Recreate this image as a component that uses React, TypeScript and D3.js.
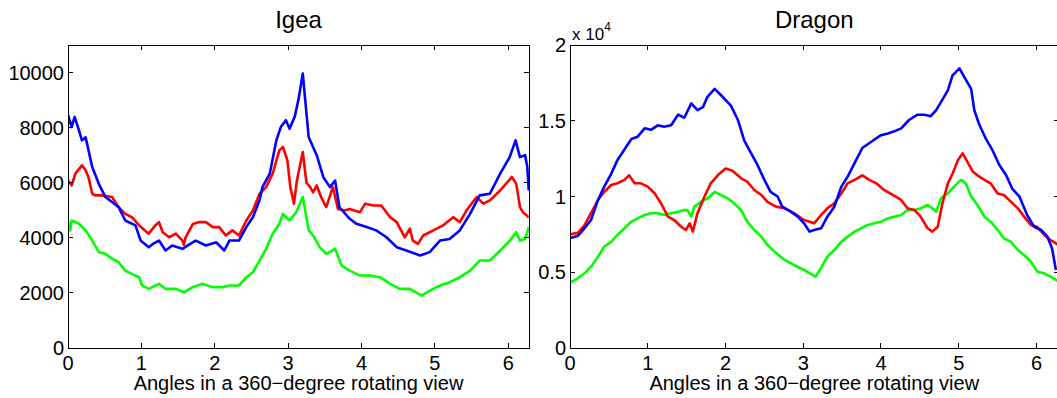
import React from "react";
import * as d3 from "d3";

// ---------- DATA (angle in radians, value) ----------
const igeaTicksY = [0, 2000, 4000, 6000, 8000, 10000];
const dragonTicksY = [0, 0.5, 1, 1.5, 2];
const xTicks = [0, 1, 2, 3, 4, 5, 6];

const igeaBlue: [number, number][] = [
  [0, 8450], [0.05, 8020], [0.09, 8390], [0.15, 7900], [0.19, 7540], [0.24, 7650], [0.28, 7175], [0.33, 6570],
  [0.42, 5960], [0.51, 5480], [0.6, 5300], [0.69, 5115], [0.78, 4630], [0.92, 4450], [0.99, 3900], [1.1, 3660],
  [1.17, 3800], [1.24, 3900], [1.33, 3540], [1.42, 3720], [1.56, 3600], [1.65, 3750], [1.74, 3900], [1.88, 3720],
  [2.02, 3840], [2.13, 3540], [2.2, 3900], [2.33, 3900], [2.43, 4390], [2.52, 4750], [2.61, 5360], [2.65, 5840],
  [2.75, 6330], [2.84, 7540], [2.9, 8020], [2.97, 8270], [3.02, 7960], [3.09, 8400], [3.14, 9000], [3.2, 9960],
  [3.28, 7660], [3.34, 7300], [3.39, 7000], [3.48, 6200], [3.57, 5840], [3.64, 6080], [3.7, 5110], [3.84, 4690],
  [3.93, 4510], [4.07, 4390], [4.2, 4270], [4.34, 4020], [4.48, 3660], [4.61, 3540], [4.8, 3360], [4.93, 3480],
  [5.07, 3900], [5.2, 3960], [5.34, 4270], [5.48, 4870], [5.61, 5540], [5.75, 5600], [5.89, 6330], [6.02, 6930],
  [6.1, 7540], [6.16, 6930], [6.23, 7000], [6.26, 6570], [6.28, 5720],
];

const igeaRed: [number, number][] = [
  [0, 6085], [0.05, 5900], [0.1, 6330], [0.19, 6630], [0.24, 6450], [0.28, 6200], [0.33, 5600], [0.37, 5540],
  [0.46, 5540], [0.6, 5480], [0.69, 5115], [0.78, 4870], [0.87, 4750], [0.97, 4450], [1.1, 4150], [1.19, 4450],
  [1.24, 4570], [1.29, 4200], [1.38, 4020], [1.47, 4150], [1.56, 3900], [1.58, 3750], [1.6, 4000], [1.7, 4500],
  [1.79, 4570], [1.88, 4570], [1.97, 4390], [2.06, 4390], [2.15, 4085], [2.24, 4270], [2.33, 4085], [2.43, 4630],
  [2.52, 4990], [2.61, 5600], [2.7, 5840], [2.79, 6330], [2.88, 7175], [2.93, 7300], [2.99, 6810], [3.03, 5840],
  [3.08, 5240], [3.12, 6080], [3.2, 7115], [3.25, 6000], [3.3, 5840], [3.34, 5650], [3.39, 5900], [3.45, 5480],
  [3.52, 5115], [3.61, 5840], [3.68, 5050], [3.77, 4990], [3.84, 5050], [3.98, 4930], [4.05, 5240], [4.16, 5175],
  [4.27, 5175], [4.39, 4750], [4.48, 4570], [4.59, 4020], [4.66, 4330], [4.7, 3900], [4.77, 3780], [4.84, 4085],
  [4.98, 4270], [5.11, 4450], [5.25, 4750], [5.34, 4570], [5.43, 4990], [5.57, 5480], [5.66, 5240], [5.75, 5360],
  [5.89, 5720], [6.05, 6210], [6.11, 5960], [6.16, 5115], [6.2, 4930], [6.28, 4750],
];

const igeaGreen: [number, number][] = [
  [0, 4630], [0.03, 4270], [0.05, 4630], [0.15, 4510], [0.24, 4270], [0.33, 3900], [0.42, 3480], [0.51, 3420],
  [0.6, 3240], [0.69, 3115], [0.78, 2810], [0.87, 2690], [0.97, 2570], [1.01, 2270], [1.1, 2145], [1.24, 2330],
  [1.33, 2145], [1.47, 2145], [1.58, 2025], [1.7, 2210], [1.83, 2330], [1.97, 2210], [2.11, 2210], [2.2, 2270],
  [2.33, 2270], [2.43, 2570], [2.52, 2750], [2.61, 3175], [2.7, 3600], [2.79, 4145], [2.88, 4510], [2.93, 4870],
  [3.02, 4630], [3.11, 4930], [3.2, 5480], [3.28, 4270], [3.34, 4085], [3.43, 3660], [3.52, 3420], [3.64, 3600],
  [3.73, 2990], [3.84, 2810], [3.98, 2630], [4.11, 2630], [4.25, 2570], [4.39, 2330], [4.52, 2145], [4.66, 2145],
  [4.82, 1900], [4.93, 2085], [5.07, 2270], [5.2, 2390], [5.34, 2570], [5.48, 2810], [5.61, 3175], [5.75, 3175],
  [5.89, 3540], [6.02, 3900], [6.11, 4205], [6.16, 3900], [6.23, 3960], [6.28, 4390],
];

// Dragon values in units of 10^4
const dragonBlue: [number, number][] = [
  [0, 0.726], [0.1, 0.74], [0.186, 0.79], [0.27, 0.845], [0.36, 0.977], [0.44, 1.065], [0.53, 1.15], [0.61, 1.24],
  [0.7, 1.31], [0.79, 1.38], [0.87, 1.395], [0.96, 1.45], [1.04, 1.44], [1.13, 1.47], [1.21, 1.46], [1.3, 1.47],
  [1.39, 1.54], [1.47, 1.52], [1.56, 1.615], [1.64, 1.57], [1.71, 1.59], [1.77, 1.66], [1.86, 1.71], [1.94, 1.67],
  [2.07, 1.6], [2.16, 1.505], [2.24, 1.37], [2.33, 1.285], [2.41, 1.21], [2.5, 1.11], [2.58, 1.03], [2.67, 1.0],
  [2.73, 0.933], [2.84, 0.9], [2.93, 0.867], [3.01, 0.823], [3.08, 0.768], [3.14, 0.779], [3.23, 0.79], [3.31, 0.867],
  [3.4, 0.933], [3.49, 1.065], [3.57, 1.13], [3.66, 1.22], [3.76, 1.32], [3.87, 1.36], [4.0, 1.405], [4.09, 1.416],
  [4.17, 1.43], [4.26, 1.45], [4.36, 1.505], [4.47, 1.54], [4.56, 1.54], [4.64, 1.53], [4.71, 1.57], [4.79, 1.64],
  [4.86, 1.7], [4.92, 1.8], [5.01, 1.846], [5.07, 1.79], [5.16, 1.71], [5.2, 1.57], [5.26, 1.48], [5.35, 1.38],
  [5.43, 1.31], [5.52, 1.21], [5.61, 1.14], [5.69, 1.05], [5.78, 1.0], [5.88, 0.878], [5.97, 0.8], [6.06, 0.779],
  [6.14, 0.735], [6.2, 0.658], [6.25, 0.515],
];

const dragonRed: [number, number][] = [
  [0, 0.75], [0.1, 0.76], [0.186, 0.81], [0.27, 0.89], [0.36, 0.977], [0.44, 1.03], [0.53, 1.076], [0.61, 1.087],
  [0.7, 1.11], [0.76, 1.14], [0.83, 1.087], [0.91, 1.087], [1.0, 1.065], [1.09, 1.02], [1.17, 0.955], [1.26, 0.867],
  [1.34, 0.845], [1.43, 0.8], [1.49, 0.779], [1.54, 0.823], [1.58, 0.768], [1.64, 0.89], [1.73, 1.0], [1.81, 1.087],
  [1.9, 1.14], [2.0, 1.185], [2.09, 1.17], [2.2, 1.12], [2.28, 1.098], [2.37, 1.043], [2.46, 1.01], [2.54, 0.965],
  [2.65, 0.933], [2.76, 0.922], [2.88, 0.89], [3.01, 0.845], [3.14, 0.823], [3.23, 0.878], [3.31, 0.922], [3.4, 0.955],
  [3.49, 1.02], [3.57, 1.087], [3.66, 1.11], [3.76, 1.14], [3.85, 1.11], [3.94, 1.087], [4.04, 1.043], [4.15, 1.01],
  [4.26, 0.977], [4.34, 0.922], [4.43, 0.911], [4.51, 0.867], [4.6, 0.79], [4.66, 0.768], [4.73, 0.8], [4.79, 0.955],
  [4.86, 1.087], [4.92, 1.15], [4.99, 1.24], [5.05, 1.285], [5.11, 1.23], [5.18, 1.165], [5.24, 1.14], [5.33, 1.11],
  [5.41, 1.087], [5.5, 1.02], [5.58, 1.01], [5.67, 0.966], [5.76, 0.922], [5.84, 0.867], [5.93, 0.81], [6.01, 0.8],
  [6.1, 0.746], [6.18, 0.713], [6.25, 0.69], [6.28, 0.68],
];

const dragonGreen: [number, number][] = [
  [0, 0.43], [0.1, 0.46], [0.186, 0.493], [0.27, 0.537], [0.36, 0.603], [0.44, 0.669], [0.53, 0.7], [0.61, 0.746],
  [0.7, 0.79], [0.79, 0.834], [0.87, 0.856], [0.96, 0.878], [1.04, 0.889], [1.13, 0.889], [1.21, 0.878], [1.3, 0.889],
  [1.39, 0.9], [1.47, 0.911], [1.51, 0.911], [1.56, 0.867], [1.6, 0.933], [1.69, 0.966], [1.77, 0.988], [1.86, 1.03],
  [1.94, 1.01], [2.03, 0.988], [2.11, 0.955], [2.2, 0.911], [2.28, 0.834], [2.37, 0.779], [2.46, 0.735], [2.54, 0.68],
  [2.63, 0.636], [2.76, 0.581], [2.88, 0.548], [3.01, 0.515], [3.16, 0.471], [3.23, 0.53], [3.31, 0.603], [3.4, 0.647],
  [3.49, 0.702], [3.57, 0.735], [3.66, 0.768], [3.74, 0.79], [3.83, 0.812], [3.91, 0.823], [4.0, 0.834], [4.09, 0.856],
  [4.17, 0.867], [4.26, 0.878], [4.34, 0.911], [4.43, 0.911], [4.51, 0.922], [4.6, 0.944], [4.66, 0.922], [4.71, 0.9],
  [4.77, 0.988], [4.86, 1.02], [4.94, 1.065], [5.03, 1.11], [5.09, 1.087], [5.16, 1.0], [5.24, 0.944], [5.33, 0.867],
  [5.41, 0.834], [5.5, 0.779], [5.58, 0.724], [5.67, 0.702], [5.76, 0.647], [5.84, 0.614], [5.93, 0.57], [6.01, 0.504],
  [6.1, 0.493], [6.18, 0.471], [6.25, 0.449], [6.28, 0.44],
];

const FONT = "'Liberation Sans', Arial, Helvetica, sans-serif";

type PanelProps = {
  id: string;
  title: string;
  x0: number;
  x1: number;
  y0: number;
  y1: number;
  yMax: number;
  yTicks: number[];
  fmt: (v: number) => string;
  series: { data: [number, number][]; color: string }[];
  exponent?: boolean;
};

function Panel({ id, title, x0, x1, y0, y1, yMax, yTicks, fmt, series, exponent }: PanelProps) {
  const x = d3.scaleLinear().domain([0, 2 * Math.PI]).range([x0, x1]);
  const y = d3.scaleLinear().domain([0, yMax]).range([y1, y0]);
  const line = d3
    .line<[number, number]>()
    .x((d) => x(d[0]))
    .y((d) => y(d[1]));
  const tl = 5;
  const cx = (x0 + x1) / 2;
  return (
    <g>
      <defs>
        <clipPath id={id}>
          <rect x={x0} y={y0} width={x1 - x0} height={y1 - y0} />
        </clipPath>
      </defs>
      <g clipPath={`url(#${id})`}>
        {series.map((s, i) => (
          <path key={i} d={line(s.data) || ""} fill="none" stroke={s.color} strokeWidth={2.6} strokeLinejoin="round" />
        ))}
      </g>
      <rect x={x0} y={y0} width={x1 - x0} height={y1 - y0} fill="none" stroke="#000" strokeWidth={1} shapeRendering="crispEdges" />
      {xTicks.map((t) => (
        <g key={"x" + t}>
          <line x1={x(t)} x2={x(t)} y1={y1} y2={y1 - tl} stroke="#000" shapeRendering="crispEdges" />
          <line x1={x(t)} x2={x(t)} y1={y0} y2={y0 + tl} stroke="#000" shapeRendering="crispEdges" />
          <text x={x(t)} y={y1 + 22} textAnchor="middle" fontSize={20} fontFamily={FONT}>
            {t}
          </text>
        </g>
      ))}
      {yTicks.map((t) => (
        <g key={"y" + t}>
          <line x1={x0} x2={x0 + tl} y1={y(t)} y2={y(t)} stroke="#000" shapeRendering="crispEdges" />
          <line x1={x1} x2={x1 - tl} y1={y(t)} y2={y(t)} stroke="#000" shapeRendering="crispEdges" />
          <text x={x0 - 4} y={y(t) + 7} textAnchor="end" fontSize={20} fontFamily={FONT}>
            {fmt(t)}
          </text>
        </g>
      ))}
      <text x={cx} y={28} textAnchor="middle" fontSize={24} fontFamily={FONT}>
        {title}
      </text>
      <text x={cx} y={390} textAnchor="middle" fontSize={20} fontFamily={FONT}>
        Angles in a 360−degree rotating view
      </text>
      {exponent && (
        <text x={x0 + 2} y={40} fontSize={17} fontFamily={FONT}>
          x 10
          <tspan fontSize={12} dy={-9}>
            4
          </tspan>
        </text>
      )}
    </g>
  );
}

export default function App() {
  return (
    <svg
      width={1057}
      height={398}
      style={{ position: "absolute", left: 0, top: 0, background: "#fff" }}
    >
      <rect width={1057} height={398} fill="#fff" />
      <Panel
        id="clipIgea"
        title="Igea"
        x0={68}
        x1={529}
        y0={45}
        y1={348}
        yMax={11000}
        yTicks={igeaTicksY}
        fmt={(v) => String(v)}
        series={[
          { data: igeaGreen, color: "#00ff00" },
          { data: igeaRed, color: "#ff0000" },
          { data: igeaBlue, color: "#0000ff" },
        ]}
      />
      <Panel
        id="clipDragon"
        title="Dragon"
        x0={570}
        x1={1058.5}
        y0={45}
        y1={348}
        yMax={2}
        yTicks={dragonTicksY}
        fmt={(v) => String(v)}
        exponent
        series={[
          { data: dragonGreen, color: "#00ff00" },
          { data: dragonRed, color: "#ff0000" },
          { data: dragonBlue, color: "#0000ff" },
        ]}
      />
    </svg>
  );
}
